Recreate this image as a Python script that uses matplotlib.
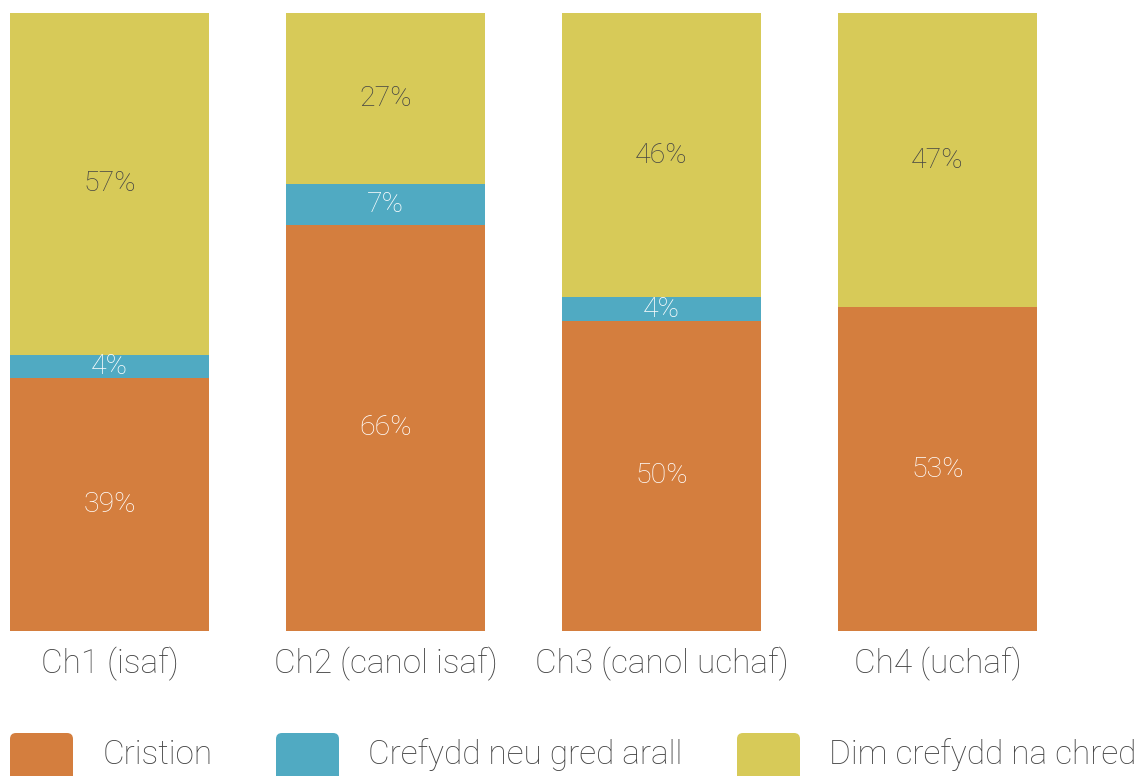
import matplotlib
matplotlib.use("Agg")
import matplotlib.pyplot as plt
from matplotlib.patches import FancyBboxPatch
from matplotlib.transforms import IdentityTransform

categories = ["Ch1 (isaf)", "Ch2 (canol isaf)", "Ch3 (canol uchaf)", "Ch4 (uchaf)"]
series_names = ["Cristion", "Crefydd neu gred arall", "Dim crefydd na chred"]
cristion = [41, 65.7, 50.2, 52.4]
arall = [3.7, 6.6, 3.8, 0]
dim = [55.3, 27.7, 46.0, 47.6]
cristion_labels = ["39%", "66%", "50%", "53%"]
arall_labels = ["4%", "7%", "4%", ""]
dim_labels = ["57%", "27%", "46%", "47%"]

colors = ["#D47E3E", "#50AAC2", "#D7CA58"]
text_colors = ["white", "white", "#444444"]

W, H = 1142, 776
fig = plt.figure(figsize=(W / 100, H / 100), dpi=100)
fig.patch.set_facecolor("white")

FONT = ["Roboto", "DejaVu Sans"]

ax_bottom = (H - 631) / H
ax_height = 618 / H
ax = fig.add_axes([0, ax_bottom, 1, ax_height])
px_per_unit = 276
ax.set_xlim(-109.5 / px_per_unit, (W - 109.5) / px_per_unit)
ax.set_ylim(0, 100)
ax.axis("off")

x = list(range(len(categories)))
width = 199 / px_per_unit
series = [cristion, arall, dim]
labels = [cristion_labels, arall_labels, dim_labels]
bottoms = [0] * len(categories)
for vals, labs, c, tc in zip(series, labels, colors, text_colors):
    ax.bar(x, vals, width, bottom=bottoms, color=c, edgecolor="none")
    for i, (v, lab) in enumerate(zip(vals, labs)):
        if v > 0 and lab:
            ax.text(i, bottoms[i] + v / 2, lab, ha="center", va="center",
                    color=tc, fontsize=20.5, family=FONT, fontweight="light")
    bottoms = [b + v for b, v in zip(bottoms, vals)]

for i, cat in enumerate(categories):
    ax.annotate(cat, xy=(i, 0), xycoords="data", xytext=(0, -33),
                textcoords="offset pixels", ha="center", va="center",
                color="#444444", fontsize=24, family=FONT, fontweight="light",
                annotation_clip=False)

# legend (manually drawn, cut off at bottom like reference)
leg_x = [10, 276, 737]
leg_text_x = [103, 368, 829]
for lx, tx, c, name in zip(leg_x, leg_text_x, colors, series_names):
    p = FancyBboxPatch((lx, H - 795), 63, 795 - 733,
                       boxstyle="round,pad=0,rounding_size=6",
                       transform=IdentityTransform(), facecolor=c,
                       edgecolor="none")
    fig.patches.append(p)
    fig.text(tx / W, (H - 755) / H, name, ha="left", va="center",
             color="#444444", fontsize=24, family=FONT, fontweight="light")

fig.savefig("out.png", dpi=100)
